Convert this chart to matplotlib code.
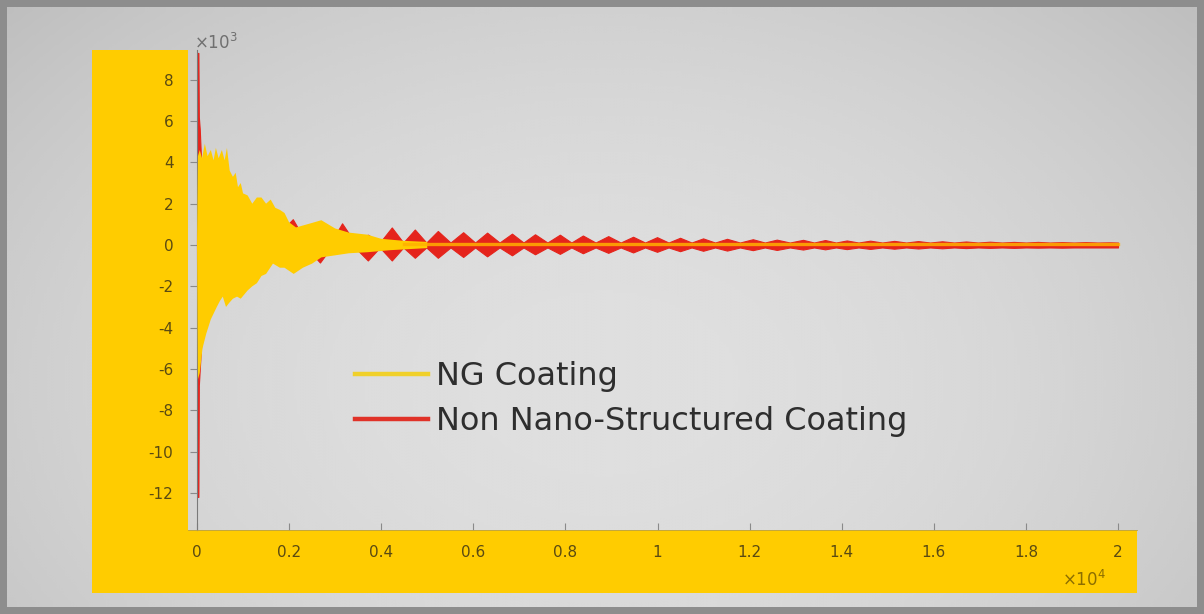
import numpy as np
import matplotlib
matplotlib.use("Agg")
import matplotlib.pyplot as plt
from matplotlib.patches import Rectangle
from matplotlib.lines import Line2D

# ---------------- data (x in units of 1e4, y in units of 1e-3) ----------------
x_ticks = [0, 0.2, 0.4, 0.6, 0.8, 1.0, 1.2, 1.4, 1.6, 1.8, 2.0]
x_tick_labels = ["0", "0.2", "0.4", "0.6", "0.8", "1", "1.2", "1.4", "1.6", "1.8", "2"]
y_ticks = [8, 6, 4, 2, 0, -2, -4, -6, -8, -10, -12]
y_tick_labels = ["8", "6", "4", "2", "0", "-2", "-4", "-6", "-8", "-10", "-12"]

series_names = ["NG Coating", "Non Nano-Structured Coating"]

# NG coating: upper / lower envelope of the dense oscillation
ng_upper_x = [0.000, 0.002, 0.006, 0.011, 0.017, 0.023, 0.030, 0.036, 0.041, 0.047,
              0.054, 0.060, 0.065, 0.071, 0.078, 0.084, 0.089, 0.095, 0.100, 0.110,
              0.120, 0.130, 0.140, 0.150, 0.160, 0.170, 0.180, 0.190, 0.200, 0.215,
              0.250, 0.270, 0.300, 0.330, 0.370, 0.400, 0.450, 0.500]
ng_upper_y = [0.0, 4.3, 4.6, 4.2, 4.9, 4.3, 4.6, 4.1, 4.7, 4.2,
              4.6, 4.1, 4.7, 3.6, 3.3, 3.5, 2.8, 3.0, 2.5, 2.4,
              2.0, 2.3, 2.3, 2.0, 2.2, 1.8, 1.7, 1.55, 1.1, 0.85,
              1.07, 1.2, 0.8, 0.6, 0.5, 0.3, 0.2, 0.15]
ng_lower_x = [0.000, 0.002, 0.006, 0.012, 0.020, 0.030, 0.043, 0.050, 0.056, 0.063,
              0.070, 0.078, 0.087, 0.095, 0.110, 0.120, 0.130, 0.140, 0.150, 0.165,
              0.180, 0.190, 0.210, 0.230, 0.250, 0.270, 0.300, 0.330, 0.370, 0.420,
              0.500]
ng_lower_y = [0.0, -6.5, -6.2, -5.0, -4.3, -3.6, -3.0, -2.7, -2.5, -3.0,
              -2.8, -2.6, -2.5, -2.6, -2.2, -2.0, -1.85, -1.5, -1.4, -0.9,
              -1.1, -1.1, -1.4, -1.1, -0.9, -0.6, -0.5, -0.4, -0.35, -0.25,
              -0.15]
# NG coating residual trace after the transient
ng_tail_x = [0.45, 1.0, 1.5, 2.0]
ng_tail_y = [0.05, 0.05, 0.05, 0.05]

# Non nano-structured coating: initial spike envelope
nn_early_x = [0.000, 0.0015, 0.0030, 0.0040, 0.0060, 0.010, 0.020, 0.060, 0.120, 0.180]
nn_early_top = [0.0, 9.3, 9.3, 6.2, 5.6, 3.5, 3.0, 2.0, 1.0, 0.6]
nn_early_bot = [0.0, -12.2, -12.2, -6.8, -6.0, -4.5, -3.5, -2.0, -1.0, -0.6]
# beat lobes: centre, top and bottom of each lobe
nn_lobe_x = [0.208, 0.267, 0.315, 0.371, 0.423, 0.473, 0.523, 0.578, 0.630, 0.684,
             0.734, 0.788, 0.838, 0.893, 0.947, 0.999, 1.049, 1.099, 1.151, 1.207,
             1.259, 1.316, 1.364, 1.411, 1.462, 1.514, 1.566, 1.618, 1.670, 1.722,
             1.774, 1.826, 1.878, 1.930, 1.982]
nn_lobe_top = [1.25, 0.30, 1.05, 0.50, 0.85, 0.75, 0.68, 0.62, 0.60, 0.55,
               0.52, 0.50, 0.46, 0.43, 0.40, 0.38, 0.35, 0.32, 0.30, 0.28,
               0.26, 0.25, 0.24, 0.22, 0.21, 0.20, 0.19, 0.18, 0.17, 0.16,
               0.15, 0.15, 0.14, 0.14, 0.13]
nn_lobe_bot = [-0.30, -0.85, -0.30, -0.75, -0.75, -0.62, -0.62, -0.58, -0.55, -0.50,
               -0.45, -0.43, -0.40, -0.38, -0.36, -0.33, -0.30, -0.28, -0.27, -0.25,
               -0.24, -0.22, -0.21, -0.20, -0.19, -0.18, -0.17, -0.16, -0.15, -0.14,
               -0.14, -0.13, -0.13, -0.12, -0.12]
nn_node_amp = 0.12
nn_end_x = 2.0

# ---------------- figure layout ----------------
W, H = 1204, 614
fig = plt.figure(figsize=(W / 100, H / 100), dpi=100)
fig.patch.set_facecolor("#8d8d8d")


def fx(px):
    return px / W


def fy(py):
    return 1 - py / H


# gradient backdrop
bg = fig.add_axes([fx(7), fy(607), fx(1197) - fx(7), fy(7) - fy(607)], zorder=-10)
gy, gx = np.mgrid[0:200, 0:400]
r2 = ((gx - 200) / 220.0) ** 2 + ((gy - 125) / 150.0) ** 2
shade = np.clip(0.875 - 0.085 * r2, 0.70, 0.90)
bg.imshow(shade, cmap="gray", vmin=0, vmax=1, aspect="auto", interpolation="bicubic")
bg.axis("off")

# yellow L-shaped band behind tick labels
band_col = "#ffcc00"
fig.add_artist(Rectangle((fx(92), fy(593)), fx(188) - fx(92), fy(50) - fy(593),
                         transform=fig.transFigure, facecolor=band_col,
                         edgecolor="none", zorder=-5))
fig.add_artist(Rectangle((fx(92), fy(593)), fx(1137) - fx(92), fy(530) - fy(593),
                         transform=fig.transFigure, facecolor=band_col,
                         edgecolor="none", zorder=-5))

ax = fig.add_axes([fx(188), fy(530), fx(1137) - fx(188), fy(50) - fy(530)])
ax.set_facecolor("none")
ppx = 460.5
ppy = 20.65
ax.set_xlim(-(197 - 188) / ppx, 2 + (1137 - 1118) / ppx)
ax.set_ylim(-(530 - 245) / ppy, (245 - 50) / ppy)

red_col = "#e5241c"
yel_col = "#ffcc00"

# Non nano-structured coating envelope
lx = np.array(nn_lobe_x)
nodes = (lx[:-1] + lx[1:]) / 2
top_x = list(nn_early_x)
top_y = list(nn_early_top)
bot_y = list(nn_early_bot)
for i in range(len(lx)):
    top_x.append(lx[i])
    top_y.append(nn_lobe_top[i])
    bot_y.append(nn_lobe_bot[i])
    if i < len(nodes):
        top_x.append(nodes[i])
        top_y.append(nn_node_amp)
        bot_y.append(-nn_node_amp)
top_x.append(nn_end_x)
top_y.append(nn_node_amp)
bot_y.append(-nn_node_amp)
ax.fill_between(top_x, bot_y, top_y, color=red_col, lw=0.8, edgecolor=red_col, zorder=2)

# NG coating envelope
px_ = np.concatenate([ng_upper_x, ng_lower_x[::-1]])
py_ = np.concatenate([ng_upper_y, ng_lower_y[::-1]])
ax.fill(px_, py_, color=yel_col, lw=0, zorder=3)
ax.plot(ng_tail_x, ng_tail_y, color="#ffb000", lw=2.4, alpha=0.85, zorder=4)

# axes styling
for s in ["top", "right"]:
    ax.spines[s].set_visible(False)
ax.spines["left"].set_position(("data", 0))
ax.spines["left"].set_color("#7a7a7a")
ax.spines["left"].set_linewidth(0.8)
ax.spines["bottom"].set_color("#b8a04a")
ax.spines["bottom"].set_linewidth(0.6)

ax.set_xticks(x_ticks)
ax.set_xticklabels(x_tick_labels)
ax.set_yticks(y_ticks)
ax.set_yticklabels(y_tick_labels)
lab_col = "#5a4a12"
ax.tick_params(axis="x", direction="in", length=5, width=0.8, color="#8a8a8a",
               pad=11, labelsize=11, labelcolor=lab_col)
ax.tick_params(axis="y", direction="out", length=5, width=0.8, color="#8a8a8a",
               pad=12, labelsize=11, labelcolor=lab_col)

fig.text(fx(194), fy(43), "×10$^{3}$", color="#707070", fontsize=12, va="center")
fig.text(fx(1062), fy(580), "×10$^{4}$", color="#8c6e00", fontsize=12, va="center")

handles = [Line2D([], [], color="#f0d02a", lw=3.2),
           Line2D([], [], color="#e03228", lw=3.2)]
leg = ax.legend(handles, series_names, loc="upper left",
                bbox_to_anchor=(fx(355), fy(361)), bbox_transform=fig.transFigure,
                frameon=False, fontsize=23, handlelength=2.3, handletextpad=0.25,
                labelspacing=0.45, borderpad=0, borderaxespad=0)
for t in leg.get_texts():
    t.set_color("#2e2e2e")

fig.savefig("out.png", dpi=100, facecolor=fig.get_facecolor())
